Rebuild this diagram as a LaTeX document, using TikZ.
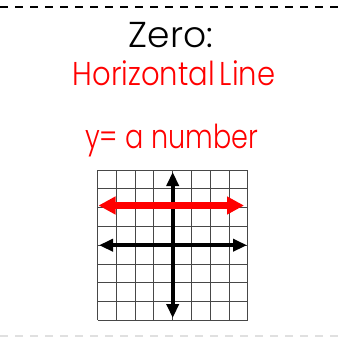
\documentclass[tikz,border=0pt]{standalone}
\usepackage{fontspec}
\setmainfont{Poppins}[UprightFont=* Light]
\usetikzlibrary{arrows.meta}
\begin{document}
\begin{tikzpicture}[x=1pt,y=-1pt,
  gridline/.style={draw=black!72,line width=0.9pt},
  axisline/.style={draw=black,line width=4pt,-{Triangle[length=14pt,width=12pt]}},
  redline/.style={draw=red,line width=6.5pt,{Triangle[length=17pt,width=17pt]}-{Triangle[length=17pt,width=17pt]}},
  title/.style={font=\fontsize{36}{40}\selectfont,text=black,inner sep=0pt,anchor=base},
  redtext/.style={font=\fontsize{33}{38}\selectfont,text=red,inner sep=0pt,anchor=base}]
\useasboundingbox (0,0) rectangle (342,338);
\fill[white] (0,0) rectangle (342,338);
% dashed separators
\coordinate (tl) at (0,7);
\coordinate (tr) at (342,7);
\draw[line width=2pt,dash pattern=on 7.5pt off 7.5pt] (tl) -- (tr);
\coordinate (bl) at (0,336);
\coordinate (br) at (342,336);
\draw[line width=2pt,black!12,dash pattern=on 7.5pt off 7.5pt] (bl) -- (br);
% texts
\node[title] (zero) at (171,47) {Zero:};
\node[redtext] (hl) at (174,85) {\scalebox{0.88}[1]{Horizontal\hspace{-3pt} Line}};
\node[redtext] (eq) at (171.5,148) {\scalebox{0.82}[1]{y= a number}};
% grid
\foreach \i in {0,...,8}{
  \draw[gridline] (97.5+\i*18.8,170) -- (97.5+\i*18.8,320.4);
  \draw[gridline] (97.5,170+\i*18.8) -- (247.9,170+\i*18.8);
}
% axes
\coordinate (o) at (172.7,245.2);
\coordinate (xl) at (99,245.2);
\coordinate (xr) at (247,245.2);
\coordinate (yt) at (172.7,172);
\coordinate (yb) at (172.7,318);
\draw[axisline] (o) -- (xr);
\draw[axisline] (o) -- (xl);
\draw[axisline] (o) -- (yt);
\draw[axisline] (o) -- (yb);
% red line
\coordinate (rl) at (98.5,205.5);
\coordinate (rr) at (244,205.5);
\draw[redline] (rl) -- (rr);
\end{tikzpicture}
\end{document}
